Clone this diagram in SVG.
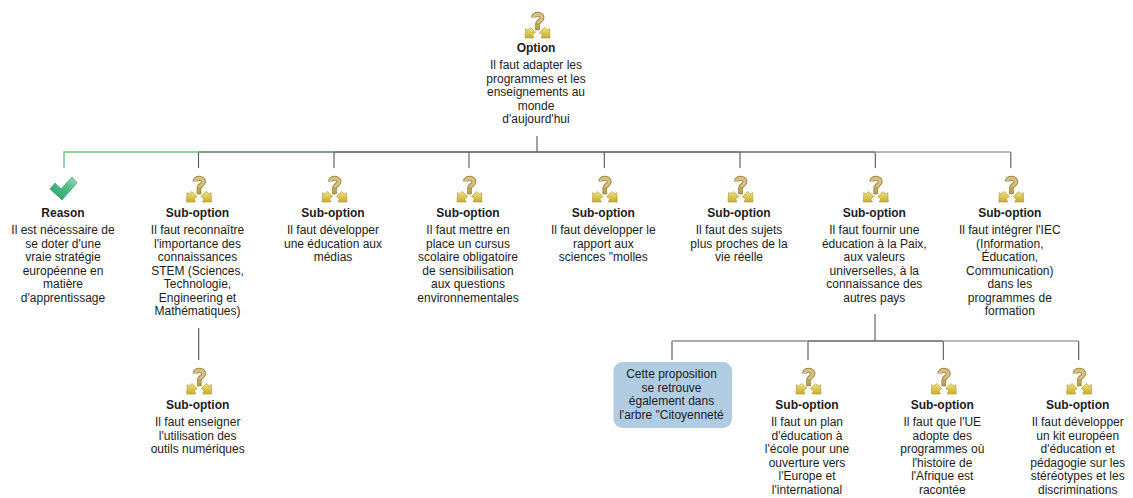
<svg xmlns="http://www.w3.org/2000/svg" width="1133" height="498" viewBox="0 0 1133 498">
<style>
text{font-family:"Liberation Sans",Arial,sans-serif;font-size:12px;fill:#1c1c1c;text-anchor:middle}
.t{font-weight:bold}
.c{fill:none;stroke:#555;stroke-width:1.1}
.h{fill:none;stroke-width:1.4}
</style>
<defs>
<linearGradient id="gold" x1="0" y1="0" x2="0" y2="1"><stop offset="0" stop-color="#c9ad5e"/><stop offset="1" stop-color="#b09a3c"/></linearGradient>
<linearGradient id="arr" x1="0" y1="0" x2="0" y2="1"><stop offset="0" stop-color="#f2e27a"/><stop offset="1" stop-color="#c8ac2e"/></linearGradient>
<linearGradient id="chk" x1="0" y1="1" x2="1" y2="0"><stop offset="0" stop-color="#28a068"/><stop offset=".6" stop-color="#4cc088"/><stop offset="1" stop-color="#a8dcc0"/></linearGradient>
<g id="q">
<path d="M-3.500-7.500C-3.500-12 4.500-12 5-7.500C5-4 1-4 0.500-1" fill="none" stroke="#a08a48" stroke-width="5"/>
<path d="M-3.500-7.500C-3.500-12 4.500-12 5-7.500C5-4 1-4 0.500-1" fill="none" stroke="#d8c080" stroke-width="3"/>
<rect x="-1.500" y="-1" width="4" height="6" fill="url(#gold)" stroke="#8f7c38" stroke-width=".6"/>
<path d="M-12 13L-11.500 3.500L-9.500 5L-6.500 2.500L-1.500 7.500L-4.500 10L-3 13Z" fill="url(#arr)" stroke="#a89440" stroke-width=".6"/>
<path d="M13 13L12.500 3.500L10.500 5L7.500 2.500L2.500 7.500L5.500 10L4 13Z" fill="url(#arr)" stroke="#a89440" stroke-width=".6"/>
</g>
</defs>
<g id="connectors">
<path class="c" d="M537 136V152M198.500 152V168M334 152V168M469 152V168M604.300 152V168M740 152V168M875.300 152V168M1010.800 152V168"/>
<path class="h" stroke="#6fc87a" d="M64 168V152H198.500"/>
<path class="h" stroke="#55805a" d="M198.500 152H334"/>
<path class="h" stroke="#565656" d="M334 152H740"/>
<path class="h" stroke="#6a6a6a" d="M740 152H875.300"/>
<path class="h" stroke="#a0a0a0" d="M875.300 152H1010.800"/>
<path class="c" d="M198.700 328V360M875 314V341M672 341V360M808 341V360M943.300 341V360M1078.700 341V360"/>
<path class="h" stroke="#8c8c8c" d="M672 341H808"/>
<path class="h" stroke="#666" d="M808 341H943.300"/>
<path class="h" stroke="#a0a0a0" d="M943.300 341H1078.700"/>
</g>
<g id="n0"><use href="#q" x="537" y="25"/><text x="536" y="52"><tspan class="t">Option</tspan><tspan x="536" dy="17">Il faut adapter les</tspan><tspan x="536" dy="13.500">programmes et les</tspan><tspan x="536" dy="13.500">enseignements au</tspan><tspan x="536" dy="13.500">monde</tspan><tspan x="536" dy="13.500">d'aujourd'hui</tspan></text></g>
<g id="n1"><path d="M50 189L55 183L61 189L72 177L77 183L62 200Z" fill="url(#chk)" stroke="#2a8f60" stroke-width=".6"/><text x="63" y="217"><tspan class="t">Reason</tspan><tspan x="63" dy="17">Il est nécessaire de</tspan><tspan x="63" dy="13.500">se doter d'une</tspan><tspan x="63" dy="13.500">vraie stratégie</tspan><tspan x="63" dy="13.500">européenne en</tspan><tspan x="63" dy="13.500">matière</tspan><tspan x="63" dy="13.500">d'apprentissage</tspan></text></g>
<g id="n2"><use href="#q" x="198.500" y="189"/><text x="197.500" y="217"><tspan class="t">Sub-option</tspan><tspan x="197.500" dy="17">Il faut reconnaître</tspan><tspan x="197.500" dy="13.500">l'importance des</tspan><tspan x="197.500" dy="13.500">connaissances</tspan><tspan x="197.500" dy="13.500">STEM (Sciences,</tspan><tspan x="197.500" dy="13.500">Technologie,</tspan><tspan x="197.500" dy="13.500">Engineering et</tspan><tspan x="197.500" dy="13.500">Mathématiques)</tspan></text></g>
<g id="n3"><use href="#q" x="334" y="189"/><text x="333" y="217"><tspan class="t">Sub-option</tspan><tspan x="333" dy="17">Il faut développer</tspan><tspan x="333" dy="13.500">une éducation aux</tspan><tspan x="333" dy="13.500">médias</tspan></text></g>
<g id="n4"><use href="#q" x="469" y="189"/><text x="468" y="217"><tspan class="t">Sub-option</tspan><tspan x="468" dy="17">Il faut mettre en</tspan><tspan x="468" dy="13.500">place un cursus</tspan><tspan x="468" dy="13.500">scolaire obligatoire</tspan><tspan x="468" dy="13.500">de sensibilisation</tspan><tspan x="468" dy="13.500">aux questions</tspan><tspan x="468" dy="13.500">environnementales</tspan></text></g>
<g id="n5"><use href="#q" x="604.300" y="189"/><text x="603.300" y="217"><tspan class="t">Sub-option</tspan><tspan x="603.300" dy="17">Il faut développer le</tspan><tspan x="603.300" dy="13.500">rapport aux</tspan><tspan x="603.300" dy="13.500">sciences "molles</tspan></text></g>
<g id="n6"><use href="#q" x="740" y="189"/><text x="739" y="217"><tspan class="t">Sub-option</tspan><tspan x="739" dy="17">Il faut des sujets</tspan><tspan x="739" dy="13.500">plus proches de la</tspan><tspan x="739" dy="13.500">vie réelle</tspan></text></g>
<g id="n7"><use href="#q" x="875.300" y="189"/><text x="874.300" y="217"><tspan class="t">Sub-option</tspan><tspan x="874.300" dy="17">Il faut fournir une</tspan><tspan x="874.300" dy="13.500">éducation à la Paix,</tspan><tspan x="874.300" dy="13.500">aux valeurs</tspan><tspan x="874.300" dy="13.500">universelles, à la</tspan><tspan x="874.300" dy="13.500">connaissance des</tspan><tspan x="874.300" dy="13.500">autres pays</tspan></text></g>
<g id="n8"><use href="#q" x="1010.800" y="189"/><text x="1009.800" y="217"><tspan class="t">Sub-option</tspan><tspan x="1009.800" dy="17">Il faut intégrer l'IEC</tspan><tspan x="1009.800" dy="13.500">(Information,</tspan><tspan x="1009.800" dy="13.500">Éducation,</tspan><tspan x="1009.800" dy="13.500">Communication)</tspan><tspan x="1009.800" dy="13.500">dans les</tspan><tspan x="1009.800" dy="13.500">programmes de</tspan><tspan x="1009.800" dy="13.500">formation</tspan></text></g>
<g id="n9"><use href="#q" x="198.700" y="381"/><text x="197.700" y="409"><tspan class="t">Sub-option</tspan><tspan x="197.700" dy="17">Il faut enseigner</tspan><tspan x="197.700" dy="13.500">l'utilisation des</tspan><tspan x="197.700" dy="13.500">outils numériques</tspan></text></g>
<g id="n10"><rect x="613.500" y="362" width="118.500" height="66" rx="9" fill="#b0cce2"/><text x="671.500" y="378">Cette proposition<tspan x="671.500" dy="13.500">se retrouve</tspan><tspan x="671.500" dy="13.500">également dans</tspan><tspan x="671.500" dy="13.500">l'arbre "Citoyenneté</tspan></text></g>
<g id="n11"><use href="#q" x="808" y="381"/><text x="807" y="409"><tspan class="t">Sub-option</tspan><tspan x="807" dy="17">Il faut un plan</tspan><tspan x="807" dy="13.500">d'éducation à</tspan><tspan x="807" dy="13.500">l'école pour une</tspan><tspan x="807" dy="13.500">ouverture vers</tspan><tspan x="807" dy="13.500">l'Europe et</tspan><tspan x="807" dy="13.500">l'international</tspan></text></g>
<g id="n12"><use href="#q" x="943.300" y="381"/><text x="942.300" y="409"><tspan class="t">Sub-option</tspan><tspan x="942.300" dy="17">Il faut que l'UE</tspan><tspan x="942.300" dy="13.500">adopte des</tspan><tspan x="942.300" dy="13.500">programmes où</tspan><tspan x="942.300" dy="13.500">l'histoire de</tspan><tspan x="942.300" dy="13.500">l'Afrique est</tspan><tspan x="942.300" dy="13.500">racontée</tspan></text></g>
<g id="n13"><use href="#q" x="1078.700" y="381"/><text x="1077.700" y="409"><tspan class="t">Sub-option</tspan><tspan x="1077.700" dy="17">Il faut développer</tspan><tspan x="1077.700" dy="13.500">un kit européen</tspan><tspan x="1077.700" dy="13.500">d'éducation et</tspan><tspan x="1077.700" dy="13.500">pédagogie sur les</tspan><tspan x="1077.700" dy="13.500">stéréotypes et les</tspan><tspan x="1077.700" dy="13.500">discriminations</tspan></text></g>
</svg>
